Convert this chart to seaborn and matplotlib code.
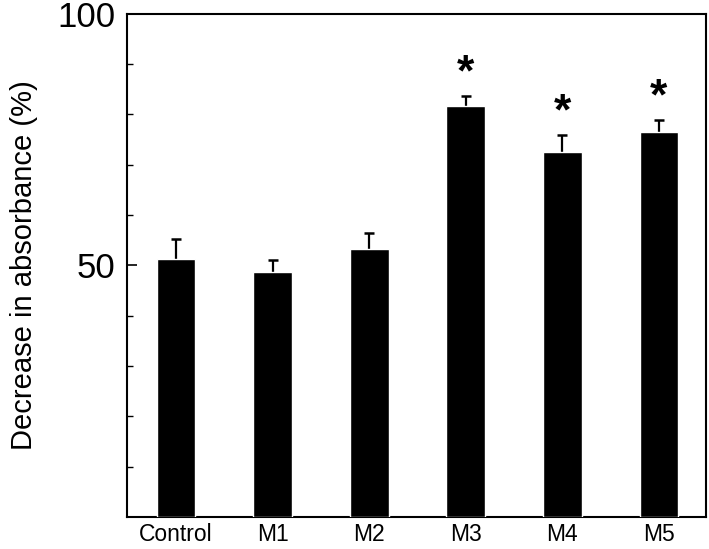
import matplotlib
matplotlib.use("Agg")
import matplotlib.pyplot as plt
import seaborn as sns
import numpy as np
import pandas as pd

# Values
groups = ["Control", "M1", "M2", "M3", "M4", "M5"]
means = [51.2, 48.6, 53.3, 81.6, 72.6, 76.5]
errors = [4.1, 2.5, 3.2, 2.1, 3.3, 2.4]
significant = [False, False, False, True, True, True]

sns.set_theme(style="ticks")
plt.rcParams["font.family"] = ["Liberation Sans", "DejaVu Sans"]
plt.rcParams["text.color"] = "black"
plt.rcParams["axes.labelcolor"] = "black"
plt.rcParams["xtick.color"] = "black"
plt.rcParams["ytick.color"] = "black"

df = pd.DataFrame({"group": groups, "value": means})

fig = plt.figure(figsize=(7.09, 5.49), dpi=100)
ax = fig.add_axes([0.179, 0.058, 0.817, 0.917])

sns.barplot(data=df, x="group", y="value", color="black", width=0.4,
            errorbar=None, ax=ax, saturation=1, zorder=3)

# upper-only error bars: stem plus a cap at the top
x = np.arange(len(groups))
tops = np.array(means) + np.array(errors)
ax.errorbar(x, means, yerr=[np.zeros(len(errors)), errors], fmt="none",
            ecolor="black", elinewidth=1.6, capsize=0, zorder=2)
ax.plot(x, tops, linestyle="none", marker="_", markersize=7,
        markeredgewidth=1.8, color="black", zorder=2)

for xi, t, s in zip(x, tops, significant):
    if s:
        ax.annotate("*", (xi, t), xytext=(0, 1), textcoords="offset points",
                    ha="center", va="bottom", fontsize=32, fontweight="bold")

ax.set_xlim(-0.51, 5.49)
ax.set_ylim(0, 100)
ax.set_yticks([50, 100])
ax.set_yticks(np.arange(10, 100, 10), minor=True)
ax.tick_params(axis="y", which="major", direction="in", length=7, width=1.2,
               labelsize=25, pad=8)
ax.tick_params(axis="y", which="minor", direction="in", length=4, width=1.0)
ax.tick_params(axis="x", length=0, labelsize=16.5, pad=4)
ax.set_xlabel("")
ax.set_ylabel("Decrease in absorbance (%)", fontsize=21, labelpad=14)
for sp in ax.spines.values():
    sp.set_visible(True)
    sp.set_linewidth(1.5)
    sp.set_color("black")

fig.savefig("out.png", dpi=100)
